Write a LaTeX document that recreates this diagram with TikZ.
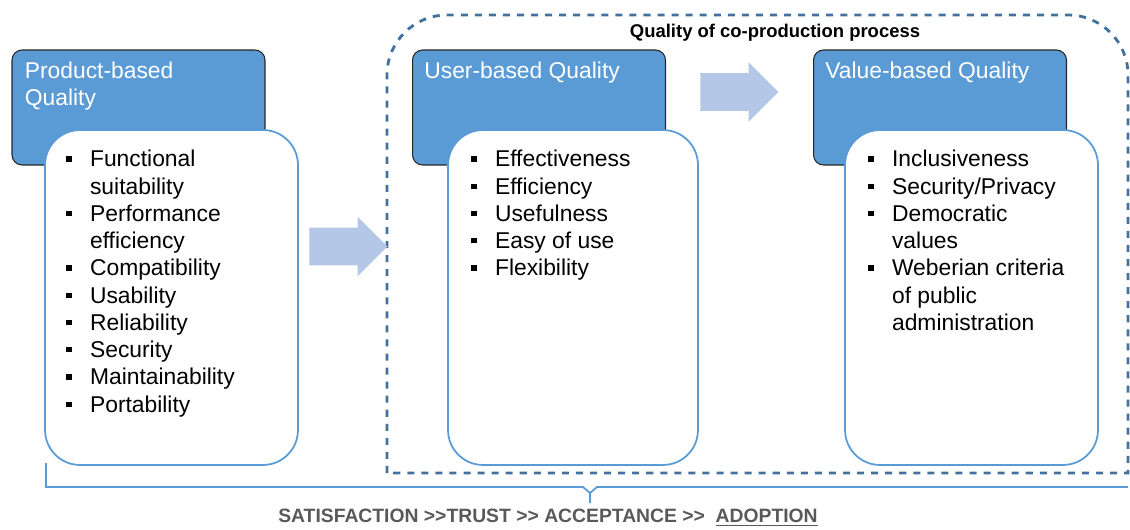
\documentclass[tikz,border=0pt]{standalone}
\usepackage{fontspec}
\setmainfont{Liberation Sans}
\usetikzlibrary{shapes.arrows}

\definecolor{headblue}{HTML}{5B9BD5}
\definecolor{framegray}{HTML}{41719C}
\definecolor{arrowblue}{HTML}{B4C7E7}
\definecolor{footgray}{HTML}{595959}

\newcommand{\qbul}{\rule[3pt]{3pt}{3pt}}
\newcommand{\qgg}{>{}>}

\begin{document}
\begin{tikzpicture}[x=0.02cm,y=-0.02cm,
    headbox/.style={draw=black!85, line width=0.6pt, fill=headblue, rounded corners=0.2cm,
      minimum width=5.06cm, minimum height=2.3cm, inner sep=0},
    listbox/.style={draw=headblue, line width=1pt, fill=white, rounded corners=0.7cm,
      minimum height=6.7cm, inner sep=0},
    headtext/.style={text=white, font=\fontsize{13}{15.4}\selectfont, align=left,
      inner sep=0, anchor=north west},
    listtext/.style={font=\fontsize{13}{15.5}\selectfont, inner sep=0, anchor=base west},
    bigarrow/.style={single arrow, fill=arrowblue, inner xsep=0, inner ysep=0.37cm,
      minimum height=1.56cm, minimum width=1.18cm, single arrow head extend=0.22cm},
    bracket/.style={draw=headblue, line width=1pt}]
  \useasboundingbox (0,0) rectangle (1130,530);

  % co-production frame
  \draw[framegray, line width=1.6pt, dash pattern=on 4pt off 4pt]
    (387,473) -- (387,200) [rounded corners=1.2cm] -- (387,15) -- (1128,15) -- (1128,200)
    [sharp corners] -- (1128,473) -- cycle;
  \node[font=\bfseries\fontsize{10.5}{12}\selectfont] (cotitle) at (775,33) {Quality of co-production process};

  \node[headbox] (prodhead) at (138.5,107.5) {};
  \node[headbox] (userhead) at (539,107.5) {};
  \node[headbox] (valuehead) at (940,107.5) {};

  \node[listbox, minimum width=5.06cm] (prodbox) at (171.5,297.5) {};
  \node[listbox, minimum width=5.0cm] (userbox) at (573,297.5) {};
  \node[listbox, minimum width=5.06cm] (valuebox) at (971.5,297.5) {};

  \node[headtext] (prodtitle) at ([shift={(0.26cm,-0.24cm)}]prodhead.north west) {Product-based\\Quality};
  \node[headtext] (usertitle) at ([shift={(0.24cm,-0.24cm)}]userhead.north west) {User-based Quality};
  \node[headtext] (valuetitle) at ([shift={(0.24cm,-0.24cm)}]valuehead.north west) {Value-based Quality};

  \node[listtext] (prodlist) at (66,167) {%
    \begin{tabular}[t]{@{}p{13.5pt}@{}l@{}}
      \qbul & Functional\\ & suitability\\
      \qbul & Performance\\ & efficiency\\
      \qbul & Compatibility\\
      \qbul & Usability\\
      \qbul & Reliability\\
      \qbul & Security\\
      \qbul & Maintainability\\
      \qbul & Portability
    \end{tabular}};
  \node[listtext] (userlist) at (471,167) {%
    \begin{tabular}[t]{@{}p{13.5pt}@{}l@{}}
      \qbul & Effectiveness\\
      \qbul & Efficiency\\
      \qbul & Usefulness\\
      \qbul & Easy of use\\
      \qbul & Flexibility
    \end{tabular}};
  \node[listtext] (valuelist) at (868,167) {%
    \begin{tabular}[t]{@{}p{13.5pt}@{}l@{}}
      \qbul & Inclusiveness\\
      \qbul & Security/Privacy\\
      \qbul & Democratic\\ & values\\
      \qbul & Weberian criteria\\ & of public\\ & administration
    \end{tabular}};

  \node[bigarrow] (arrowone) at (339,246.5) {};
  \node[bigarrow] (arrowtwo) at (730,92) {};

  % brace under all three
  \coordinate (bracetip) at (590,493);
  \draw[bracket] (46,463) |- (583,487) -- (bracetip) -- (597,487) -- (1128,487);
  \draw[bracket] (bracetip) -- (590,503);
  \node[text=footgray, font=\bfseries\fontsize{11}{13}\selectfont] (chain) at (548,518)
    {SATISFACTION \qgg TRUST \qgg{} ACCEPTANCE \qgg\ \ \underline{ADOPTION}};
\end{tikzpicture}
\end{document}
